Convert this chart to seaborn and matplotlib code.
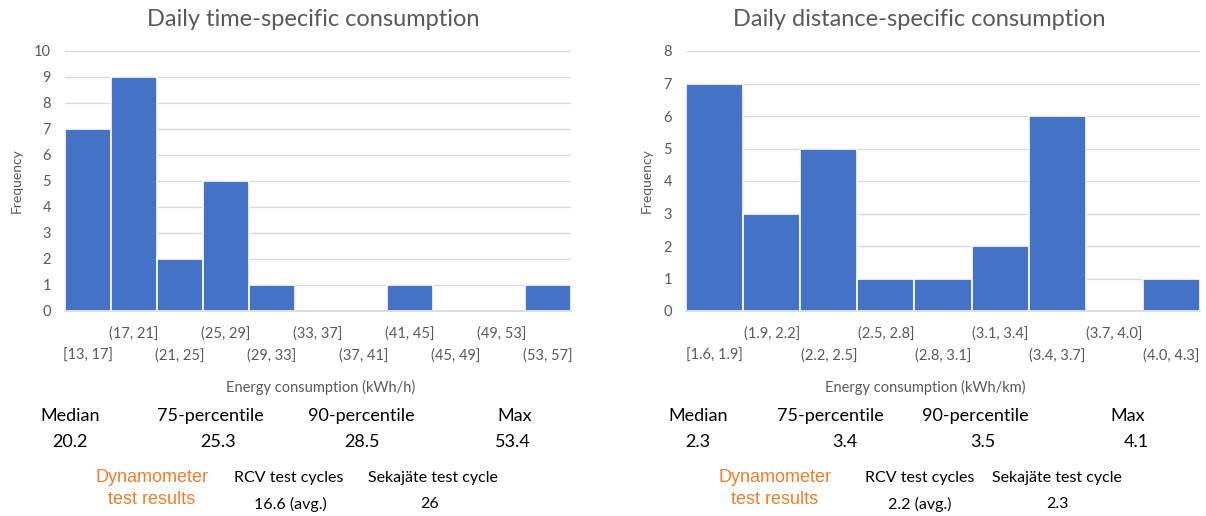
import matplotlib
matplotlib.use("Agg")
import matplotlib.pyplot as plt
import seaborn as sns
import pandas as pd

# ---- data ----
time_bins = ["[13, 17]", "(17, 21]", "(21, 25]", "(25, 29]", "(29, 33]", "(33, 37]",
             "(37, 41]", "(41, 45]", "(45, 49]", "(49, 53]", "(53, 57]"]
time_counts = [7, 9, 2, 5, 1, 0, 0, 1, 0, 0, 1]

dist_bins = ["[1.6, 1.9]", "(1.9, 2.2]", "(2.2, 2.5]", "(2.5, 2.8]", "(2.8, 3.1]",
             "(3.1, 3.4]", "(3.4, 3.7]", "(3.7, 4.0]", "(4.0, 4.3]"]
dist_counts = [7, 3, 5, 1, 1, 2, 6, 0, 1]

stat_names = ["Median", "75-percentile", "90-percentile", "Max"]
time_stats = ["20.2", "25.3", "28.5", "53.4"]
dist_stats = ["2.3", "3.4", "3.5", "4.1"]

test_names = ["RCV test cycles", "Sekajäte test cycle"]
time_tests = ["16.6 (avg.)", "26"]
dist_tests = ["2.2 (avg.)", "2.3"]

sns.set_theme(style="white")
plt.rcParams['font.family'] = ['Lato', 'DejaVu Sans']

W, H = 1206, 516
fig = plt.figure(figsize=(W / 100, H / 100), dpi=100)

BAR = "#4472C4"
GRAY = "#595959"
GRID = "#D9D9D9"
ORANGE = "#ED7D31"


def fx(px):
    return px / W


def fy(py):
    return 1 - py / H


def panel(rect, bins, counts, ymax, title, title_x, xlabel, xlabel_x):
    ax = fig.add_axes(rect)
    df = pd.DataFrame({"bin": bins, "count": counts})
    sns.barplot(data=df, x="bin", y="count", ax=ax, color=BAR, width=1.0,
                edgecolor="white", linewidth=1.2, saturation=1)
    ax.set_xlim(-0.5, len(bins) - 0.5)
    ax.set_ylim(0, ymax)
    ax.set_yticks(range(0, ymax + 1))
    ax.yaxis.grid(True, color=GRID, linewidth=1)
    ax.set_axisbelow(True)
    for s in ["top", "right", "left"]:
        ax.spines[s].set_visible(False)
    ax.spines["bottom"].set_color(GRID)
    labels = [("\n" + b) if i % 2 == 0 else b for i, b in enumerate(bins)]
    ax.set_xticks(range(len(bins)))
    ax.set_xticklabels(labels, fontsize=10.5, color=GRAY, linespacing=1.75)
    ax.tick_params(axis="x", length=0, pad=11)
    ax.tick_params(axis="y", length=0, labelsize=10.5, labelcolor=GRAY, pad=10)
    ax.set_xlabel("")
    ax.set_ylabel("Frequency", fontsize=10, color=GRAY, labelpad=8)
    fig.text(fx(title_x), fy(20), title, fontsize=17, color=GRAY, ha="center", va="center")
    fig.text(fx(xlabel_x), fy(387), xlabel, fontsize=10.5, color=GRAY, ha="center", va="center")
    return ax


panel([fx(65), fy(311), fx(571 - 65), (311 - 51) / H], time_bins, time_counts, 10,
      "Daily time-specific consumption", 313, "Energy consumption (kWh/h)", 321)
panel([fx(686), fy(311), fx(1200 - 686), (311 - 51) / H], dist_bins, dist_counts, 8,
      "Daily distance-specific consumption", 919, "Energy consumption (kWh/km)", 925)

# stats rows
def stats(name_xs, val_xs, vals, dyn_x, test_xs, test_val_xs, test_vals):
    for n, x in zip(stat_names, name_xs):
        fig.text(fx(x), fy(416), n, fontsize=13, color="black", ha="center", va="center")
    for v, x in zip(vals, val_xs):
        fig.text(fx(x), fy(442), v, fontsize=13, color="black", ha="center", va="center")
    fig.text(fx(dyn_x), fy(478), "Dynamometer", fontsize=13, color=ORANGE,
             ha="center", va="center", family="Liberation Sans")
    fig.text(fx(dyn_x), fy(500), "test results", fontsize=13, color=ORANGE,
             ha="center", va="center", family="Liberation Sans")
    for n, x in zip(test_names, test_xs):
        fig.text(fx(x), fy(478), n, fontsize=11.5, color="black", ha="center", va="center")
    for v, x in zip(test_vals, test_val_xs):
        fig.text(fx(x), fy(504), v, fontsize=11.5, color="black", ha="center", va="center")


stats([70, 210, 361, 515], [70, 218, 362, 513], time_stats, 152,
      [289, 433], [290, 430], time_tests)
stats([698, 830, 975, 1128], [698, 845, 983, 1136], dist_stats, 775,
      [920, 1057], [920, 1057], dist_tests)

fig.savefig("out.png", dpi=100, facecolor="white")
